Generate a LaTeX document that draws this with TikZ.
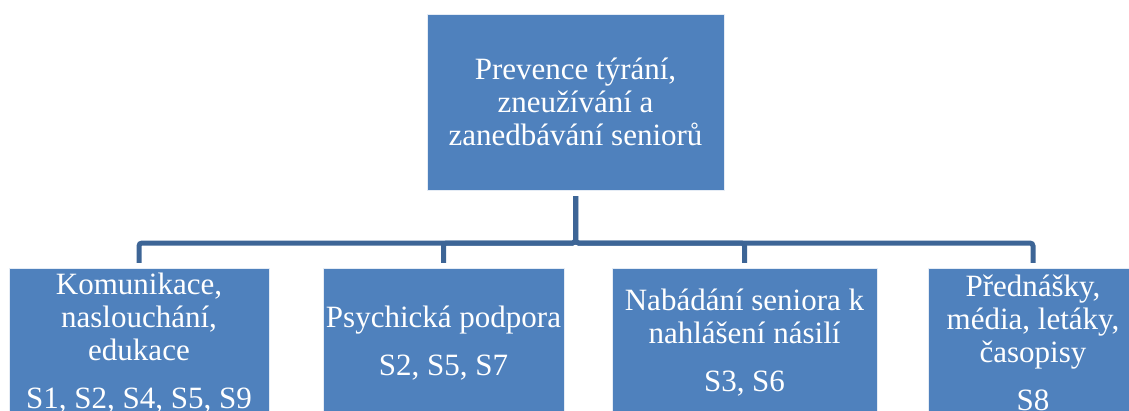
\documentclass[tikz,border=0pt]{standalone}
\usepackage{fontspec}
\setmainfont{Liberation Serif}
\usepackage{tikz}
\usetikzlibrary{positioning}
\definecolor{boxblue}{HTML}{4F81BD}
\definecolor{lineblue}{HTML}{3D6596}
\tikzset{
  topbox/.style={rectangle, fill=boxblue, draw=white!85!boxblue, thin, text=white, align=center,
    minimum width=297pt, minimum height=176pt, inner sep=0pt, font=\fontsize{31}{33}\selectfont},
  subbox/.style={topbox, minimum height=150pt},
  conn/.style={line width=5pt, draw=lineblue, rounded corners=3pt, shorten <=6pt, shorten >=5pt}
}

\begin{document}
\begin{tikzpicture}[x=1pt,y=1pt]
  \useasboundingbox (0,0) rectangle (1129,410);
  \clip (0,0) rectangle (1129,410);
  % hlavni uzel
  \node[topbox] (root) at (575.5,308) {Prevence týrání,\\zneužívání a\\zanedbávání seniorů};
  % podrizene uzly
  \node[subbox, minimum width=260pt] (kom) at (139,67) {Komunikace,\\naslouchání,\\edukace\\[15pt]S1, S2, S4, S5, S9};
  \node[subbox, minimum width=241pt] (psy) at (443.5,67) {Psychická podpora\\[15pt]S2, S5, S7};
  \node[subbox, minimum width=265pt] (nab) at (744.5,67) {Nabádání seniora k\\nahlášení násilí\\[15pt]S3, S6};
  \node[subbox, minimum width=210pt] (pred) at (1033,67) {Přednášky,\\média, letáky,\\časopisy\\[15pt]S8};
  % spojnice
  \coordinate (bus) at (575.5,167);
  \foreach \c in {kom,psy,nab,pred}
    \draw[conn] (root.south) -- (bus) -| (\c.north);
\end{tikzpicture}
\end{document}
